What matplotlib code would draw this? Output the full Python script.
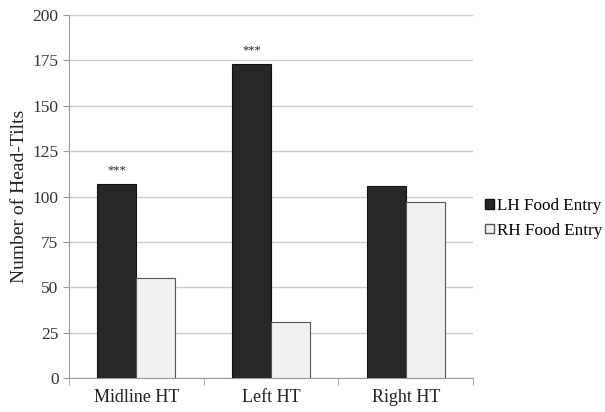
import matplotlib
matplotlib.use("Agg")
import matplotlib.pyplot as plt
import numpy as np
from matplotlib.patches import Patch

categories = ["Midline HT", "Left HT", "Right HT"]
lh_values = [107, 173, 106]
rh_values = [55, 31, 97]
stars = ["***", "***", ""]
yticks = [0, 25, 50, 75, 100, 125, 150, 175, 200]

plt.rcParams["font.family"] = ["Liberation Serif", "DejaVu Serif"]

fig = plt.figure(figsize=(6.05, 4.12), dpi=100)
ax = fig.add_axes([0.114, 0.0825, 0.668, 0.881])

x = np.arange(len(categories))
w = 0.29
ax.bar(x - w / 2, lh_values, w, color="#282828", edgecolor="#111111", linewidth=0.8, zorder=3)
ax.bar(x + w / 2, rh_values, w, color="#f1f1f1", edgecolor="#555555", linewidth=0.8, zorder=3)

for xi, v, s in zip(x, lh_values, stars):
    if s:
        ax.text(xi - w / 2, v + 4, s, ha="center", va="bottom", fontsize=9, color="#222222")

ax.set_xlim(-0.5, len(categories) - 0.5)
ax.set_ylim(0, 200)
ax.set_yticks(yticks)
ax.tick_params(axis="y", labelsize=12.5, length=4, color="#999999", colors="#333333")
ax.set_xticks(x)
ax.set_xticklabels(categories, fontsize=13, color="#222222")
ax.tick_params(axis="x", length=0, pad=8)
ax.set_xticks(np.arange(-0.5, len(categories)), minor=True)
ax.tick_params(axis="x", which="minor", length=5, color="#999999")
ax.yaxis.grid(True, color="#cccccc", linewidth=1, zorder=0)
ax.set_axisbelow(True)
for side in ["top", "right"]:
    ax.spines[side].set_visible(False)
for side in ["left", "bottom"]:
    ax.spines[side].set_color("#999999")
ax.set_ylabel("Number of Head-Tilts", fontsize=14, color="#222222", labelpad=3)

handles = [Patch(facecolor="#282828", edgecolor="#111111", label="LH Food Entry"),
           Patch(facecolor="#f1f1f1", edgecolor="#555555", label="RH Food Entry")]
fig.legend(handles=handles, loc="center left", bbox_to_anchor=(0.802, 0.47), frameon=False,
           fontsize=12.3, handlelength=0.5, handleheight=0.5, handletextpad=0.2,
           labelspacing=0.5, borderpad=0, borderaxespad=0)

fig.savefig("out.png", dpi=100)
